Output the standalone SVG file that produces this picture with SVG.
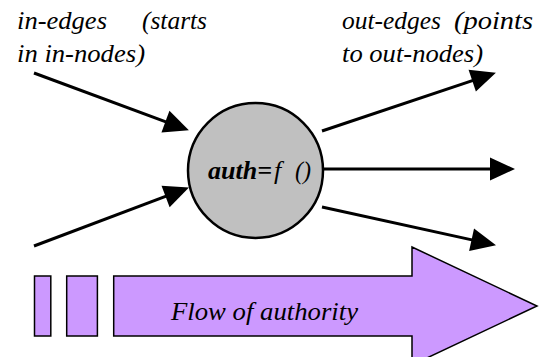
<svg xmlns="http://www.w3.org/2000/svg" width="539" height="357" viewBox="0 0 539 357">
  <style>
    .lbl { font-family: "Liberation Serif", "Times New Roman", "DejaVu Serif", serif; font-style: italic; font-size: 26px; fill: #000; }
    .edge { stroke: #000; stroke-width: 3; fill: none; marker-end: url(#head); }
    .flow { fill: #CC99FF; stroke: #000; stroke-width: 1.5; }
  </style>
  <defs>
    <marker id="head" markerUnits="userSpaceOnUse" markerWidth="26" markerHeight="24" viewBox="0 -12 25 24" refX="12" refY="0" orient="auto">
      <path d="M0,-11.5 L25,0 L0,11.5 Z" fill="#000"/>
    </marker>
  </defs>
  <rect width="539" height="357" fill="#fff"/>

  <g id="flow-arrow">
    <rect class="flow" x="34.5" y="276" width="16.3" height="60"/>
    <rect class="flow" x="66.7" y="276" width="30.7" height="60"/>
    <path class="flow" d="M113.7,276 L412,276 L412,247 L537,306 L412,365 L412,336 L113.7,336 Z"/>
    <text class="lbl" x="171" y="319.5" textLength="187" lengthAdjust="spacingAndGlyphs">Flow of authority</text>
  </g>

  <g id="label-in">
    <text class="lbl" x="17" y="29" textLength="90" lengthAdjust="spacingAndGlyphs">in-edges</text>
    <text class="lbl" x="142" y="29" textLength="65" lengthAdjust="spacingAndGlyphs">(starts</text>
    <text class="lbl" x="17" y="62" textLength="128" lengthAdjust="spacingAndGlyphs">in in-nodes)</text>
  </g>
  <g id="label-out">
    <text class="lbl" x="342" y="29" textLength="99" lengthAdjust="spacingAndGlyphs">out-edges</text>
    <text class="lbl" x="454" y="29" textLength="79" lengthAdjust="spacingAndGlyphs">(points</text>
    <text class="lbl" x="342" y="62" textLength="141" lengthAdjust="spacingAndGlyphs">to out-nodes)</text>
  </g>

  <g id="connectors">
    <line class="edge" x1="34" y1="73" x2="176.7" y2="125.8"/>
    <line class="edge" x1="34" y1="246" x2="176.8" y2="192.2"/>
    <line class="edge" x1="322" y1="131" x2="483.6" y2="76.8"/>
    <line class="edge" x1="323" y1="169" x2="502" y2="169"/>
    <line class="edge" x1="322" y1="207" x2="483.3" y2="242.4"/>
  </g>

  <g id="node-auth">
    <circle cx="255.5" cy="170.5" r="67.5" fill="#C0C0C0" stroke="#000" stroke-width="2.5"/>
    <text class="lbl" x="208" y="179" font-size="25" font-weight="bold" textLength="64" lengthAdjust="spacingAndGlyphs">auth=</text>
    <text class="lbl" x="274" y="179" font-size="25">f</text>
    <text class="lbl" x="295" y="179" font-size="25" textLength="16" lengthAdjust="spacingAndGlyphs">()</text>
  </g>
</svg>
